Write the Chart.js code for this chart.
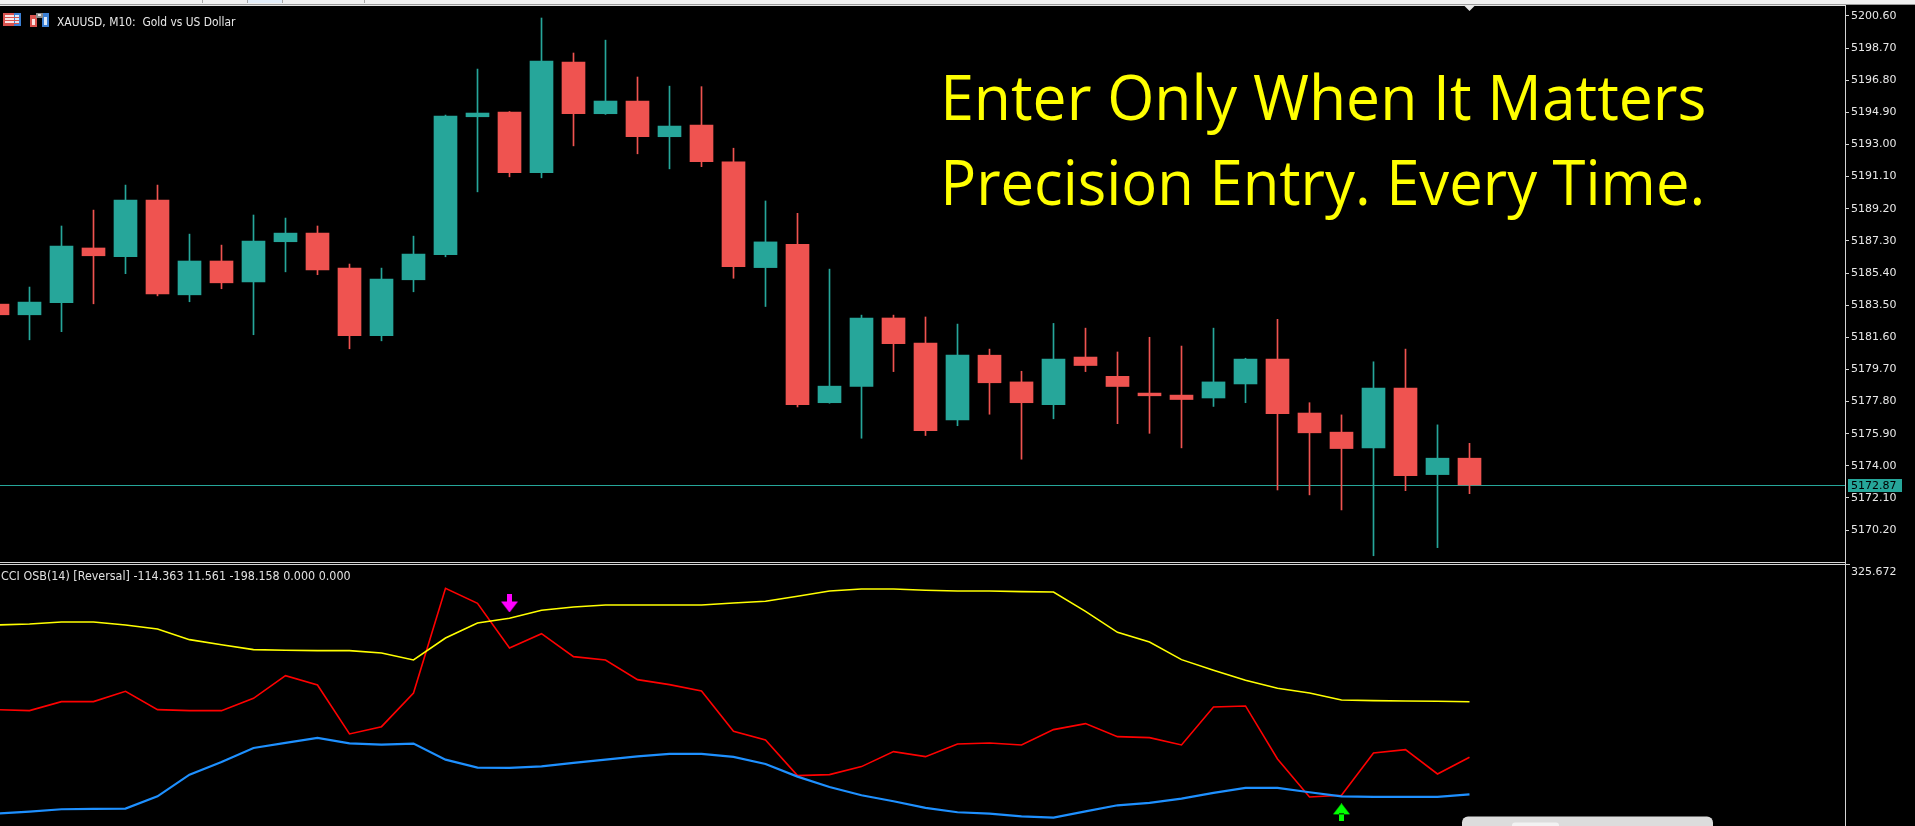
<!DOCTYPE html>
<html>
<head>
<meta charset="utf-8">
<script src="https://cdn.jsdelivr.net/npm/chart.js@4.4.1/dist/chart.umd.min.js"></script>
<style>
  html, body { margin: 0; padding: 0; background: #000; overflow: hidden; }
  #wrap { position: relative; width: 1915px; height: 826px; background: #000; }
  #cMain { position: absolute; left: 0; top: 0; }
  #cSub { position: absolute; left: 0; top: 563px; }
</style>
</head>
<body>
<div id="wrap">
  <canvas id="cMain" width="1915" height="563"></canvas>
  <canvas id="cSub" width="1915" height="263"></canvas>
</div>
<script>
// ---- texts ----
const symbolTitle = 'XAUUSD, M10:  Gold vs US Dollar';
const indicatorName = 'CCI OSB(14) [Reversal]';
const headline = ['Enter Only When It Matters', 'Precision Entry. Every Time.'];

// ---- XAUUSD M10 candles ----
const opens  = [5183.56, 5182.93, 5183.64, 5186.88, 5186.36, 5189.71, 5184.11, 5186.11, 5184.88, 5187.25,
                5187.76, 5185.69, 5181.69, 5185.00, 5186.48, 5194.64, 5194.92, 5191.33, 5197.87, 5194.82,
                5195.57, 5193.46, 5194.15, 5191.97, 5185.72, 5187.10, 5177.73, 5178.69, 5182.74, 5181.26,
                5176.72, 5180.54, 5178.96, 5177.62, 5180.43, 5179.29, 5178.30, 5178.18, 5178.01, 5178.84,
                5180.31, 5177.12, 5175.99, 5175.06, 5178.60, 5173.48, 5174.45];
const highs  = [5183.70, 5184.57, 5188.18, 5189.12, 5190.60, 5190.60, 5187.70, 5187.05, 5188.83, 5188.65,
                5188.18, 5185.93, 5185.69, 5187.58, 5194.74, 5197.46, 5194.95, 5200.48, 5198.41, 5199.17,
                5196.99, 5196.45, 5196.42, 5192.78, 5189.66, 5188.93, 5185.63, 5182.91, 5182.91, 5182.80,
                5182.38, 5180.90, 5179.59, 5182.42, 5182.14, 5180.73, 5181.60, 5181.08, 5182.14, 5180.36,
                5182.66, 5177.73, 5177.01, 5180.15, 5180.90, 5176.42, 5175.33];
const lows   = [5182.80, 5181.45, 5181.93, 5183.58, 5185.36, 5184.05, 5183.70, 5184.47, 5181.75, 5185.47,
                5185.30, 5180.92, 5181.39, 5184.29, 5186.36, 5190.20, 5191.09, 5191.03, 5192.92, 5194.78,
                5192.45, 5191.56, 5191.69, 5185.09, 5183.42, 5177.48, 5177.70, 5175.63, 5179.57, 5175.79,
                5176.37, 5177.05, 5174.39, 5176.78, 5179.57, 5176.49, 5175.92, 5175.06, 5177.51, 5177.73,
                5172.57, 5172.28, 5171.39, 5168.68, 5172.53, 5169.16, 5172.35];
const closes = [5182.93, 5183.68, 5186.99, 5186.42, 5189.71, 5184.17, 5186.11, 5184.82, 5187.29, 5187.76,
                5185.59, 5181.69, 5185.04, 5186.52, 5194.68, 5194.86, 5191.33, 5197.93, 5194.82, 5195.57,
                5193.46, 5194.09, 5191.98, 5185.77, 5187.24, 5177.62, 5178.71, 5182.74, 5181.22, 5176.08,
                5180.54, 5178.91, 5177.73, 5180.31, 5179.93, 5178.69, 5178.14, 5177.92, 5178.96, 5180.31,
                5177.08, 5175.95, 5175.02, 5178.60, 5173.41, 5174.45, 5172.87];

// ---- price scale tick labels ----
const priceTicks = [5200.60, 5198.70, 5196.80, 5194.90, 5193.00, 5191.10, 5189.20, 5187.30, 5185.40,
                    5183.50, 5181.60, 5179.70, 5177.80, 5175.90, 5174.00, 5172.10, 5170.20];

// ---- CCI OSB(14) buffers ----
const cciLine = [-6.4, -8.7, 11.7, 11.7, 35.1, -6.4, -8.7, -8.7, 19.2, 70.5,
                 49.4, -61.5, -45.0, 31.3, 268.3, 234.3, 133.2, 165.6, 113.6, 106.0,
                 61.5, 50.2, 35.8, -55.5, -75.1, -155.9, -153.6, -135.5, -101.5, -112.9,
                 -84.2, -81.9, -86.5, -51.7, -38.1, -67.6, -69.8, -86.5, -0.4, 1.9,
                 -118.2, -204.2, -200.4, -104.6, -97.0, -152.1, -114.363];
const upperBand = [185.3, 187.5, 192.0, 192.0, 185.3, 176.2, 152.1, 140.7, 129.4, 127.9,
                   127.2, 127.2, 121.9, 106.0, 155.8, 189.8, 200.4, 218.5, 226.0, 230.6,
                   230.6, 230.6, 230.6, 235.1, 238.9, 250.2, 262.3, 266.8, 266.8, 263.8,
                   262.3, 262.3, 260.8, 260.0, 216.2, 168.7, 146.8, 106.8, 82.6, 60.0,
                   41.9, 31.3, 15.4, 13.9, 13.2, 12.4, 11.561];
const lowerBand = [-241.9, -237.4, -232.1, -231.4, -230.6, -202.7, -153.6, -124.9, -93.3, -81.9,
                   -70.6, -82.7, -85.7, -83.4, -119.7, -137.8, -138.5, -134.8, -127.2, -119.7,
                   -112.1, -106.8, -106.8, -113.6, -129.5, -158.2, -181.6, -200.4, -214.0, -229.1,
                   -238.9, -241.9, -248.0, -251.0, -236.7, -223.1, -217.8, -208.0, -195.1, -183.8,
                   -183.8, -193.6, -202.7, -204.2, -204.2, -204.2, -198.158];
const sellBuffer = 0.000;
const buyBuffer = 0.000;
const sellArrows = [{ bar: 16, value: 234 }];
const buyArrows  = [{ bar: 42, value: -239 }];
const subScaleMax = 325.672;

// ---- styling ----
const BULL = '#26a69a';
const BEAR = '#ef5350';
const AXIS = '#d4d4d4';
const LABEL = '#e8e8e8';
const barIndex = opens.map((_, i) => i);
const last = closes.length - 1;
const candleColor = i => (closes[i] >= opens[i] ? BULL : BEAR);
const xRange = { min: 0.078125, max: 57.734375 };

Chart.defaults.font.family = "'DejaVu Sans', sans-serif";

// draws text so its ink spans exactly [left, right]
function fitInk(ctx, text, left, right, baseline, font, color) {
  ctx.save();
  ctx.font = font;
  ctx.fillStyle = color;
  ctx.textBaseline = 'alphabetic';
  ctx.textAlign = 'left';
  const m = ctx.measureText(text);
  const ink = m.actualBoundingBoxLeft + m.actualBoundingBoxRight;
  const sx = (right - left) / ink;
  ctx.translate(left + m.actualBoundingBoxLeft * sx, baseline);
  ctx.scale(sx, 1);
  ctx.fillText(text, 0, 0);
  ctx.restore();
}

function drawIcons(ctx) {
  // data-window icon
  ctx.fillStyle = '#d9534f'; ctx.fillRect(3, 13, 18, 13);
  ctx.fillStyle = '#fbe3e3'; ctx.fillRect(5, 15, 9, 9);
  ctx.fillStyle = '#3b7fd4'; ctx.fillRect(14, 13, 7, 13);
  ctx.fillStyle = '#dbe8f8'; ctx.fillRect(15, 15, 4, 9);
  ctx.fillStyle = '#d9534f';
  ctx.fillRect(5, 17, 14, 1); ctx.fillRect(5, 20, 14, 1); ctx.fillRect(5, 23, 14, 1);
  // one-click trading icon
  ctx.fillStyle = '#d9534f'; ctx.fillRect(30, 15, 7, 12);
  ctx.fillStyle = '#fbe3e3'; ctx.fillRect(32, 19, 3, 6);
  ctx.fillStyle = '#3b7fd4'; ctx.fillRect(42, 13, 7, 14);
  ctx.fillStyle = '#dbe8f8'; ctx.fillRect(44, 17, 3, 8);
  ctx.fillStyle = '#8a8a8a'; ctx.fillRect(36, 13, 7, 5);
  ctx.fillStyle = '#e8e8e8'; ctx.fillRect(38, 14, 3, 2);
}

const mainDecor = {
  id: 'mainDecor',
  beforeDraw(chart) {
    const ctx = chart.ctx;
    ctx.save();
    ctx.fillStyle = '#000'; ctx.fillRect(0, 0, chart.width, chart.height);
    // window strip above the chart
    ctx.fillStyle = '#f0f0f0'; ctx.fillRect(0, 0, chart.width, 4);
    ctx.fillStyle = '#e3eefa'; ctx.fillRect(247, 0, 35, 3);
    ctx.fillStyle = '#a8a8a8';
    [202, 247, 282, 364].forEach(x => ctx.fillRect(x, 0, 1, 3));
    ctx.fillStyle = '#9a9a9a'; ctx.fillRect(0, 4, chart.width, 1);
    ctx.fillStyle = '#e6e6e6'; ctx.fillRect(0, 5, chart.chartArea.right + 1, 1);
    ctx.restore();
  },
  beforeDatasetsDraw(chart) {
    const { ctx, chartArea, scales } = chart;
    const y = Math.round(scales.y.getPixelForValue(closes[last]));
    ctx.save();
    ctx.fillStyle = BULL;
    ctx.fillRect(chartArea.left, y, chartArea.right - chartArea.left, 1);
    ctx.restore();
  },
  afterDraw(chart) {
    const { ctx, chartArea, scales } = chart;
    ctx.save();
    // headline
    fitInk(ctx, headline[0], 946, 1704, 120, "62px 'Open Sans'", '#ffff00');
    fitInk(ctx, headline[1], 946, 1701, 205, "62px 'Open Sans'", '#ffff00');
    // symbol caption
    drawIcons(ctx);
    fitInk(ctx, symbolTitle, 57, 236, 25.5, "13px 'DejaVu Sans'", '#e8e8e8');
    // last price tag
    const y = scales.y.getPixelForValue(closes[last]);
    ctx.fillStyle = BULL;
    ctx.fillRect(1848, Math.round(y) - 6, 54, 13);
    ctx.fillStyle = '#000';
    ctx.font = "11px 'DejaVu Sans'";
    ctx.textBaseline = 'middle';
    ctx.fillText(closes[last].toFixed(2), 1851, Math.round(y) + 1);
    // chart shift marker above the last bar
    const xl = scales.x.getPixelForValue(last);
    ctx.fillStyle = '#e6e6e6';
    ctx.beginPath();
    ctx.moveTo(xl - 5, 6); ctx.lineTo(xl + 5, 6); ctx.lineTo(xl, 11); ctx.closePath(); ctx.fill();
    // pane separator and axis continuation
    ctx.fillStyle = AXIS;
    ctx.fillRect(0, 562, chartArea.right + 1, 1);
    ctx.fillRect(chartArea.right, chartArea.bottom, 1, chart.height - chartArea.bottom);
    ctx.restore();
  }
};

new Chart(document.getElementById('cMain'), {
  type: 'bar',
  data: {
    datasets: [
      {
        label: 'body', order: 0,
        data: barIndex.map(i => ({ x: i, y: [opens[i], closes[i]] })),
        backgroundColor: c => candleColor(c.dataIndex),
        barThickness: 23, grouped: false, minBarLength: 1, borderWidth: 0
      },
      {
        label: 'wick', order: 1,
        data: barIndex.map(i => ({ x: i, y: [lows[i], highs[i]] })),
        backgroundColor: c => candleColor(c.dataIndex),
        barThickness: 1, grouped: false, borderWidth: 0
      }
    ]
  },
  options: {
    responsive: false, animation: false, events: [],
    layout: { padding: { top: 6, bottom: 2, left: 0, right: 0 }, autoPadding: false },
    plugins: { legend: { display: false }, tooltip: { enabled: false } },
    scales: {
      x: { type: 'linear', min: xRange.min, max: xRange.max, display: false, offset: false },
      y: {
        position: 'right', min: 5168.37, max: 5201.19,
        afterFit: s => { s.width = 70; s.paddingTop = 0; s.paddingBottom = 0; },
        afterBuildTicks: s => { s.ticks = priceTicks.map(v => ({ value: v })); },
        ticks: {
          autoSkip: false, color: LABEL, padding: 2,
          font: { family: "'DejaVu Sans'", size: 11 },
          callback: v => Number(v).toFixed(2)
        },
        grid: { drawOnChartArea: false, drawTicks: true, tickLength: 4, color: AXIS },
        border: { display: true, color: AXIS, width: 1 }
      }
    }
  },
  plugins: [mainDecor]
});

// signal arrow glyphs
function arrowImage(color, down) {
  const c = document.createElement('canvas');
  c.width = 17; c.height = 18;
  const g = c.getContext('2d');
  g.fillStyle = color;
  g.beginPath();
  if (down) {
    g.rect(6, 0, 5, 8);
    g.moveTo(0, 7); g.lineTo(17, 7); g.lineTo(8.5, 18); g.closePath();
  } else {
    g.rect(6, 10, 5, 8);
    g.moveTo(0, 11); g.lineTo(17, 11); g.lineTo(8.5, 0); g.closePath();
  }
  g.fill();
  return c;
}

const subDecor = {
  id: 'subDecor',
  beforeDraw(chart) {
    const ctx = chart.ctx;
    ctx.save();
    ctx.fillStyle = '#000'; ctx.fillRect(0, 0, chart.width, chart.height);
    ctx.restore();
  },
  afterDraw(chart) {
    const { ctx, chartArea } = chart;
    ctx.save();
    // pane separator with the top tick
    ctx.fillStyle = AXIS;
    ctx.fillRect(0, 1, chartArea.right + 5, 1);
    // indicator caption with current buffer values
    const caption = indicatorName + ' ' +
      [cciLine[last], upperBand[last], lowerBand[last], sellBuffer, buyBuffer].map(v => v.toFixed(3)).join(' ');
    fitInk(ctx, caption, 1, 350, 17, "12px 'DejaVu Sans'", '#e0e0e0');
    // scale maximum
    ctx.fillStyle = LABEL;
    ctx.font = "11px 'DejaVu Sans'";
    ctx.textBaseline = 'middle';
    ctx.fillText(subScaleMax.toFixed(3), 1851, 9);
    // horizontal scroll handle
    ctx.fillStyle = '#dcdcdc';
    ctx.beginPath(); ctx.roundRect(1462, 253.5, 251, 20, 6); ctx.fill();
    ctx.fillStyle = '#f2f2f2';
    ctx.beginPath(); ctx.roundRect(1512, 259.5, 47, 10, 3); ctx.fill();
    ctx.restore();
  }
};

new Chart(document.getElementById('cSub'), {
  type: 'line',
  data: {
    datasets: [
      {
        label: 'sell', order: 0, showLine: false,
        data: sellArrows.map(a => ({ x: a.bar, y: a.value })),
        pointStyle: arrowImage('#ff00ff', true), pointRadius: 9
      },
      {
        label: 'buy', order: 0, showLine: false,
        data: buyArrows.map(a => ({ x: a.bar, y: a.value })),
        pointStyle: arrowImage('#00ff00', false), pointRadius: 9
      },
      {
        label: 'lower', order: 1,
        data: barIndex.map(i => ({ x: i, y: lowerBand[i] })),
        borderColor: '#1e90ff', borderWidth: 2.2, pointRadius: 0, tension: 0
      },
      {
        label: 'upper', order: 2,
        data: barIndex.map(i => ({ x: i, y: upperBand[i] })),
        borderColor: '#ffff00', borderWidth: 1.6, pointRadius: 0, tension: 0
      },
      {
        label: 'cci', order: 3,
        data: barIndex.map(i => ({ x: i, y: cciLine[i] })),
        borderColor: '#ff0000', borderWidth: 1.6, pointRadius: 0, tension: 0
      }
    ]
  },
  options: {
    responsive: false, animation: false, events: [],
    layout: { padding: 0, autoPadding: false },
    plugins: { legend: { display: false }, tooltip: { enabled: false } },
    scales: {
      x: { type: 'linear', min: xRange.min, max: xRange.max, display: false, offset: false },
      y: {
        position: 'right', min: -270, max: subScaleMax,
        afterFit: s => { s.width = 70; s.paddingTop = 0; s.paddingBottom = 0; },
        ticks: { display: false },
        grid: { drawOnChartArea: false, drawTicks: false },
        border: { display: true, color: AXIS, width: 1 }
      }
    }
  },
  plugins: [subDecor]
});
</script>
</body>
</html>
